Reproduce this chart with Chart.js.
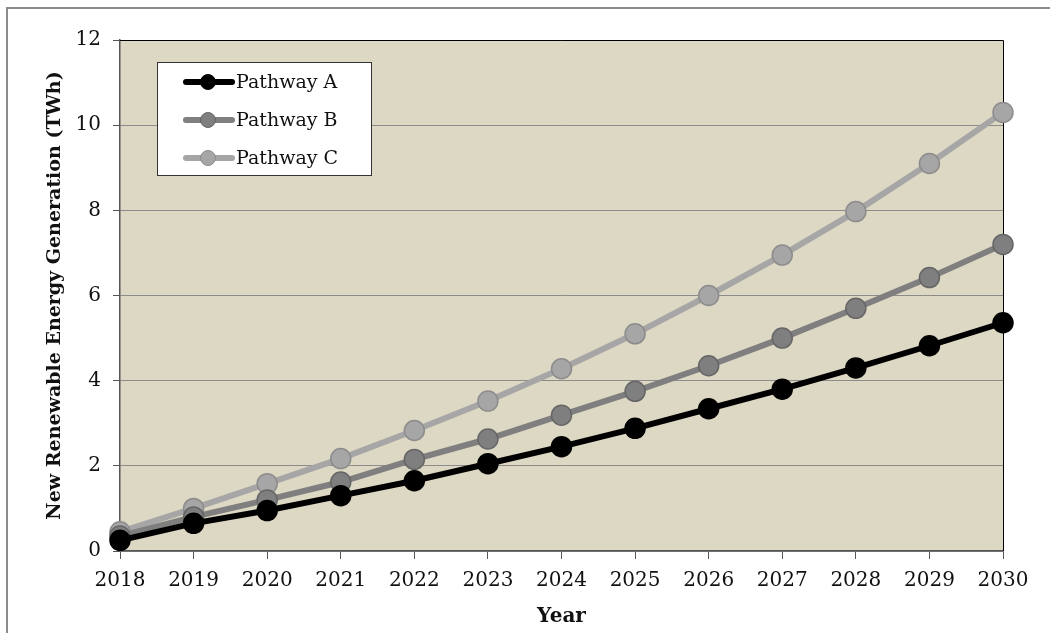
<!DOCTYPE html>
<html>
<head>
<meta charset="utf-8">
<script src="https://cdn.jsdelivr.net/npm/chart.js@4.4.0/dist/chart.umd.min.js"></script>
<style>
  html, body { margin: 0; padding: 0; background: #fff; }
  #wrap { position: relative; width: 1050px; height: 633px; overflow: hidden; }
  #frame { position: absolute; left: 6px; top: 7px; width: 1100px; height: 700px;
           border-left: 2px solid #8c8c8c; border-top: 2px solid #8c8c8c; }
  canvas { position: absolute; left: 0; top: 0; }
</style>
</head>
<body>
<div id="wrap">
  <div id="frame"></div>
  <canvas id="genChart" width="1050" height="633"></canvas>
</div>
<script>
// New renewable generation by pathway (TWh)
const years = ['2018', '2019', '2020', '2021', '2022', '2023', '2024', '2025', '2026', '2027', '2028', '2029', '2030'];
const pathwayA = [0.25, 0.65, 0.95, 1.3, 1.65, 2.05, 2.45, 2.88, 3.34, 3.8, 4.3, 4.82, 5.36];
const pathwayB = [0.35, 0.8, 1.2, 1.62, 2.15, 2.63, 3.19, 3.75, 4.35, 5.0, 5.7, 6.42, 7.2];
const pathwayC = [0.45, 1.0, 1.58, 2.17, 2.83, 3.52, 4.28, 5.1, 6.0, 6.95, 7.97, 9.1, 10.3];
const yTicks = [0, 2, 4, 6, 8, 10, 12];

const serif = '"DejaVu Serif", serif';

function series(label, data, color, edge) {
    return {
        label: label,
        data: data,
        borderColor: color,
        backgroundColor: color,
        borderWidth: 6,
        pointRadius: 10,
        pointHoverRadius: 10,
        pointBackgroundColor: color,
        pointBorderColor: edge,
        pointBorderWidth: 1.5,
        tension: 0,
        clip: false
    };
}

// plot background + black top/right border
const plotFrame = {
    id: 'plotFrame',
    beforeDraw(chart) {
        const { ctx, chartArea: a } = chart;
        ctx.save();
        ctx.fillStyle = '#ddd8c3';
        ctx.fillRect(a.left, a.top, a.right - a.left, a.bottom - a.top);
        ctx.restore();
    },
    beforeDatasetsDraw(chart) {
        const { ctx, chartArea: a } = chart;
        ctx.save();
        ctx.strokeStyle = '#000';
        ctx.lineWidth = 1;
        ctx.beginPath();
        ctx.moveTo(a.left, a.top + 0.5);
        ctx.lineTo(a.right + 0.5, a.top + 0.5);
        ctx.lineTo(a.right + 0.5, a.bottom);
        ctx.stroke();
        ctx.restore();
    }
};

// boxed legend drawn inside the plot area
const boxLegend = {
    id: 'boxLegend',
    afterDraw(chart) {
        const { ctx } = chart;
        const x = 157, y = 62, w = 214, h = 113;
        ctx.save();
        ctx.fillStyle = '#fff';
        ctx.fillRect(x, y, w, h);
        ctx.strokeStyle = '#333';
        ctx.lineWidth = 1;
        ctx.strokeRect(x + 0.5, y + 0.5, w, h);
        ctx.font = '19px ' + serif;
        ctx.textBaseline = 'middle';
        chart.data.datasets.forEach((ds, i) => {
            const cy = 82 + i * 38;
            ctx.strokeStyle = ds.borderColor;
            ctx.lineWidth = 6;
            ctx.lineCap = 'round';
            ctx.beginPath();
            ctx.moveTo(186, cy);
            ctx.lineTo(232, cy);
            ctx.stroke();
            ctx.beginPath();
            ctx.arc(208, cy, 7.5, 0, Math.PI * 2);
            ctx.fillStyle = ds.pointBackgroundColor;
            ctx.fill();
            ctx.lineWidth = 1;
            ctx.strokeStyle = ds.pointBorderColor;
            ctx.stroke();
            ctx.fillStyle = '#111';
            ctx.fillText(ds.label, 236, cy + 1);
        });
        ctx.restore();
    }
};

new Chart(document.getElementById('genChart'), {
    type: 'line',
    data: {
        labels: years,
        datasets: [
            series('Pathway A', pathwayA, '#000000', '#000000'),
            series('Pathway B', pathwayB, '#7f7f7f', '#666666'),
            series('Pathway C', pathwayC, '#a6a6a6', '#8c8c8c')
        ]
    },
    options: {
        responsive: false,
        animation: false,
        layout: { padding: { left: 36, top: 40, right: 47, bottom: 0 } },
        plugins: {
            legend: { display: false },
            tooltip: { enabled: false }
        },
        scales: {
            x: {
                offset: false,
                grid: { drawOnChartArea: false, tickLength: 8, tickColor: '#555', color: '#555' },
                border: { color: '#555', width: 1.5 },
                ticks: { color: '#111', font: { family: serif, size: 20 }, padding: 10, maxRotation: 0 },
                title: { display: true, text: 'Year', color: '#111', font: { family: serif, size: 20, weight: 'bold' }, padding: { top: 0 } },
                afterFit(scale) { scale.height = 82; }
            },
            y: {
                min: 0,
                max: 12,
                afterBuildTicks(scale) { scale.ticks = yTicks.map(v => ({ value: v })); },
                grid: { color: '#8c8c8c', lineWidth: 1, tickLength: 7, tickColor: '#555' },
                border: { color: '#555', width: 1.5 },
                ticks: { color: '#111', font: { family: serif, size: 20 }, padding: 12 },
                title: { display: true, text: 'New Renewable Energy Generation (TWh)', color: '#111', font: { family: serif, size: 19, weight: 'bold' }, padding: { top: 8, bottom: 0 } },
                afterFit(scale) { scale.width = 84; }
            }
        }
    },
    plugins: [plotFrame, boxLegend]
});
</script>
</body>
</html>
